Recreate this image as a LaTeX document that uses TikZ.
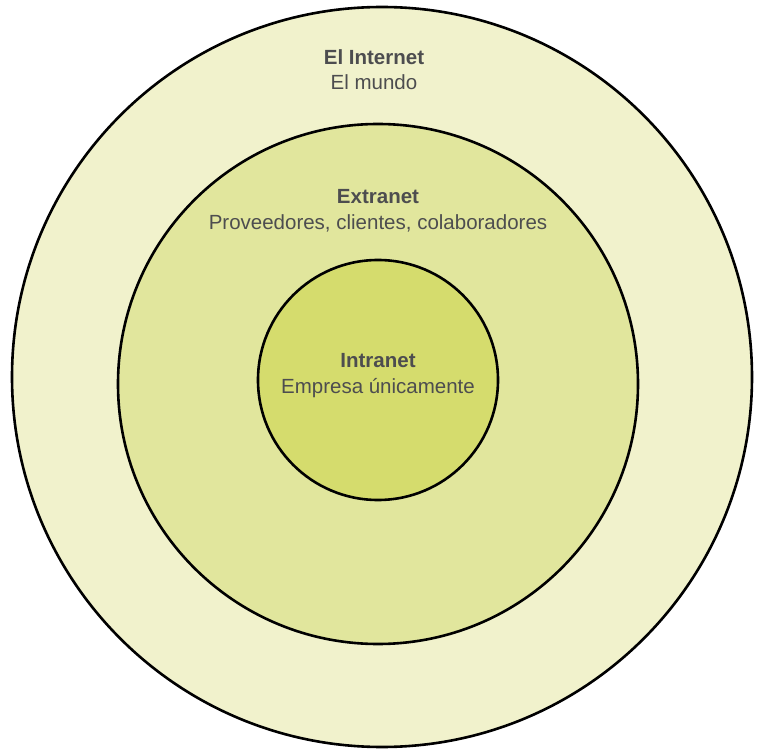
\documentclass[tikz,border=0pt]{standalone}
\usepackage{fontspec}
\setmainfont{Liberation Sans}
\usetikzlibrary{positioning}
\definecolor{ringout}{HTML}{F1F2CC}
\definecolor{ringmid}{HTML}{E1E69D}
\definecolor{ringin}{HTML}{D5DC6D}
\definecolor{txtgray}{HTML}{4D4D4F}
\begin{document}
\begin{tikzpicture}[x=1pt, y=-1pt, node distance=10pt,
    ring/.style={draw, circle, line width=2.6pt, inner sep=0pt},
    title/.style={font=\fontsize{20.5}{22}\selectfont\bfseries, text=txtgray, inner sep=0pt},
    sub/.style={font=\fontsize{20.5}{22}\selectfont, text=txtgray, inner sep=0pt}]
            \useasboundingbox (0,0) rectangle (764,754);
            \node[ring, fill=ringout, minimum size=740pt] (internet) at (382,377) {};
            \node[ring, fill=ringmid, minimum size=520pt] (extranet) at (378,384) {};
            \node[ring, fill=ringin, minimum size=240pt] (intranet) at (378,380) {};
            \node[title] (tinternet) at (374,57) {El Internet};
            \node[sub, below=of tinternet] (sinternet) {El mundo};
            \node[title] (textranet) at (378,197) {Extranet};
            \node[sub, below=of textranet] (sextranet) {Proveedores, clientes, colaboradores};
            \node[title] (tintranet) at (378,361) {Intranet};
            \node[sub, below=of tintranet] (sintranet) {Empresa únicamente};
        \end{tikzpicture}
\end{document}
